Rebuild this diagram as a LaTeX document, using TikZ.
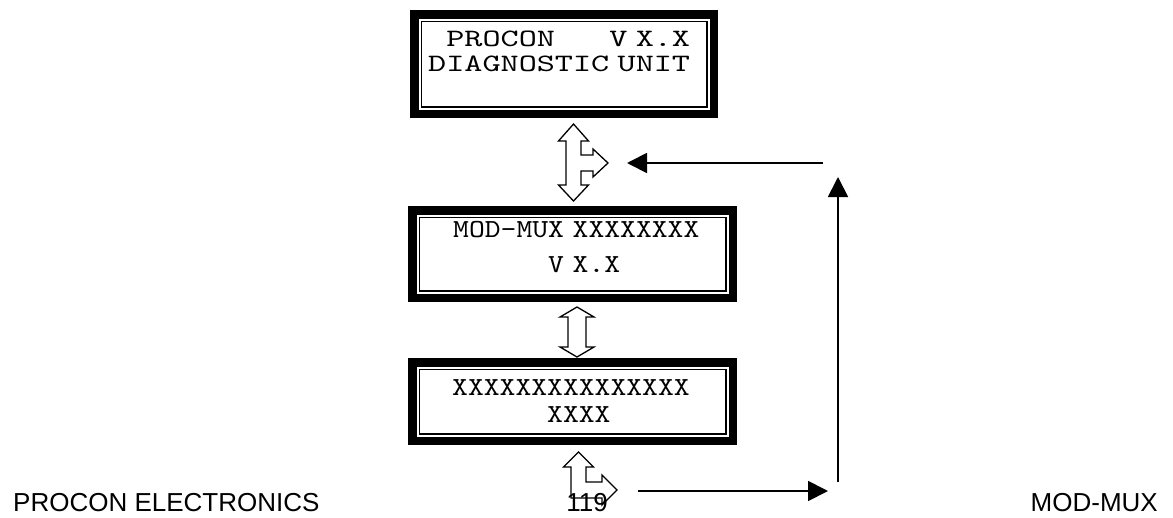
\documentclass[tikz,border=0pt]{standalone}
\usepackage{fontspec}
\usepackage{tikz}
\usetikzlibrary{arrows.meta,positioning}
\newfontfamily\lcdfont[FakeStretch=1.16]{lmmono10-regular.otf}
\newfontfamily\lcdwide[FakeStretch=1.38]{lmmono10-regular.otf}
\newfontfamily\footfont{Liberation Sans}

\begin{document}
\begin{tikzpicture}[
            x=1pt,y=-1pt,
            lcdbox/.style={draw,line width=8.5pt,inner sep=0pt,outer sep=0pt},
            lcdinner/.style={draw,line width=1.5pt},
            lcdtext/.style={anchor=base west,inner sep=0pt,text width=300pt,align=left},
            blockarrow/.style={draw,fill=white,line width=1.3pt,line join=miter},
            arrow/.style={-{Triangle[length=20pt,width=20pt]},line width=1.8pt},
            foottext/.style={inner sep=0pt,font=\footfont\fontsize{26}{30}\selectfont}
        ]
            \useasboundingbox[fill=white] (0,0) rectangle (1173,517);
            % display boxes
            \node[lcdbox,minimum width=299.5pt,minimum height=99.5pt] (b1) at (564,64) {};
            \node[lcdbox,minimum width=320.5pt,minimum height=87.5pt] (b2) at (572.5,254) {};
            \node[lcdbox,minimum width=320.5pt,minimum height=78.5pt] (b3) at (572.5,401.5) {};
            \foreach \b in {b1,b2,b3}
                \draw[lcdinner] ([shift={(7pt,-7pt)}]\b.north west) rectangle ([shift={(-7pt,7pt)}]\b.south east);
            \node[lcdtext,font=\lcdwide\fontsize{25}{25}\selectfont] (t1) at (428,46)
                {\hphantom{0}PROCON\hphantom{000}V X.X\\DIAGNOSTIC UNIT};
            \node[lcdtext,font=\lcdfont\fontsize{26}{35}\selectfont] (t2) at (453,237)
                {MOD-MUX XXXXXXXX\\\hphantom{000000}V X.X};
            \node[lcdtext,font=\lcdfont\fontsize{26}{27}\selectfont] (t3) at (452,395)
                {XXXXXXXXXXXXXXX\\\hphantom{000000}XXXX};
            % hollow block arrows
            \draw[blockarrow] (573.5,124) -- (588.5,141) -- (581,141) -- (581,155) -- (593,155) -- (593,149)
                -- (608,163) -- (593,177) -- (593,171) -- (581,171) -- (581,185) -- (588.5,185)
                -- (573.5,201) -- (558.5,185) -- (566,185) -- (566,141) -- (558.5,141) -- cycle;
            \draw[blockarrow] (577,307) -- (594,317) -- (586,317) -- (586,347) -- (594,347) -- (577,357)
                -- (560,347) -- (568,347) -- (568,317) -- (560,317) -- cycle;
            \draw[blockarrow] (578.5,452) -- (593.5,467) -- (586,467) -- (586,482) -- (602,482) -- (602,475)
                -- (617,490) -- (602,505) -- (602,498) -- (571,498) -- (571,467) -- (563.5,467) -- cycle;
            % return loop
            \coordinate (ltip) at (617,491);
            \coordinate (ttip) at (608,163);
            \coordinate (cornerb) at (838,491);
            \coordinate (cornert) at (838,163);
            \draw[arrow,shorten <=21pt,shorten >=10pt] (ltip) -- (cornerb);
            \draw[arrow,shorten <=9pt,shorten >=14pt] (cornerb) -- (cornert);
            \draw[arrow,shorten <=15pt,shorten >=19pt] (cornert) -- (ttip);
            % page footer
            \node[foottext,anchor=base west] (fleft) at (13,511) {PROCON ELECTRONICS};
            \node[foottext,anchor=base] (fpage) at (587,511) {119};
            \node[foottext,anchor=base east] (fright) at (1158,511) {MOD-MUX};
        \end{tikzpicture}
\end{document}
